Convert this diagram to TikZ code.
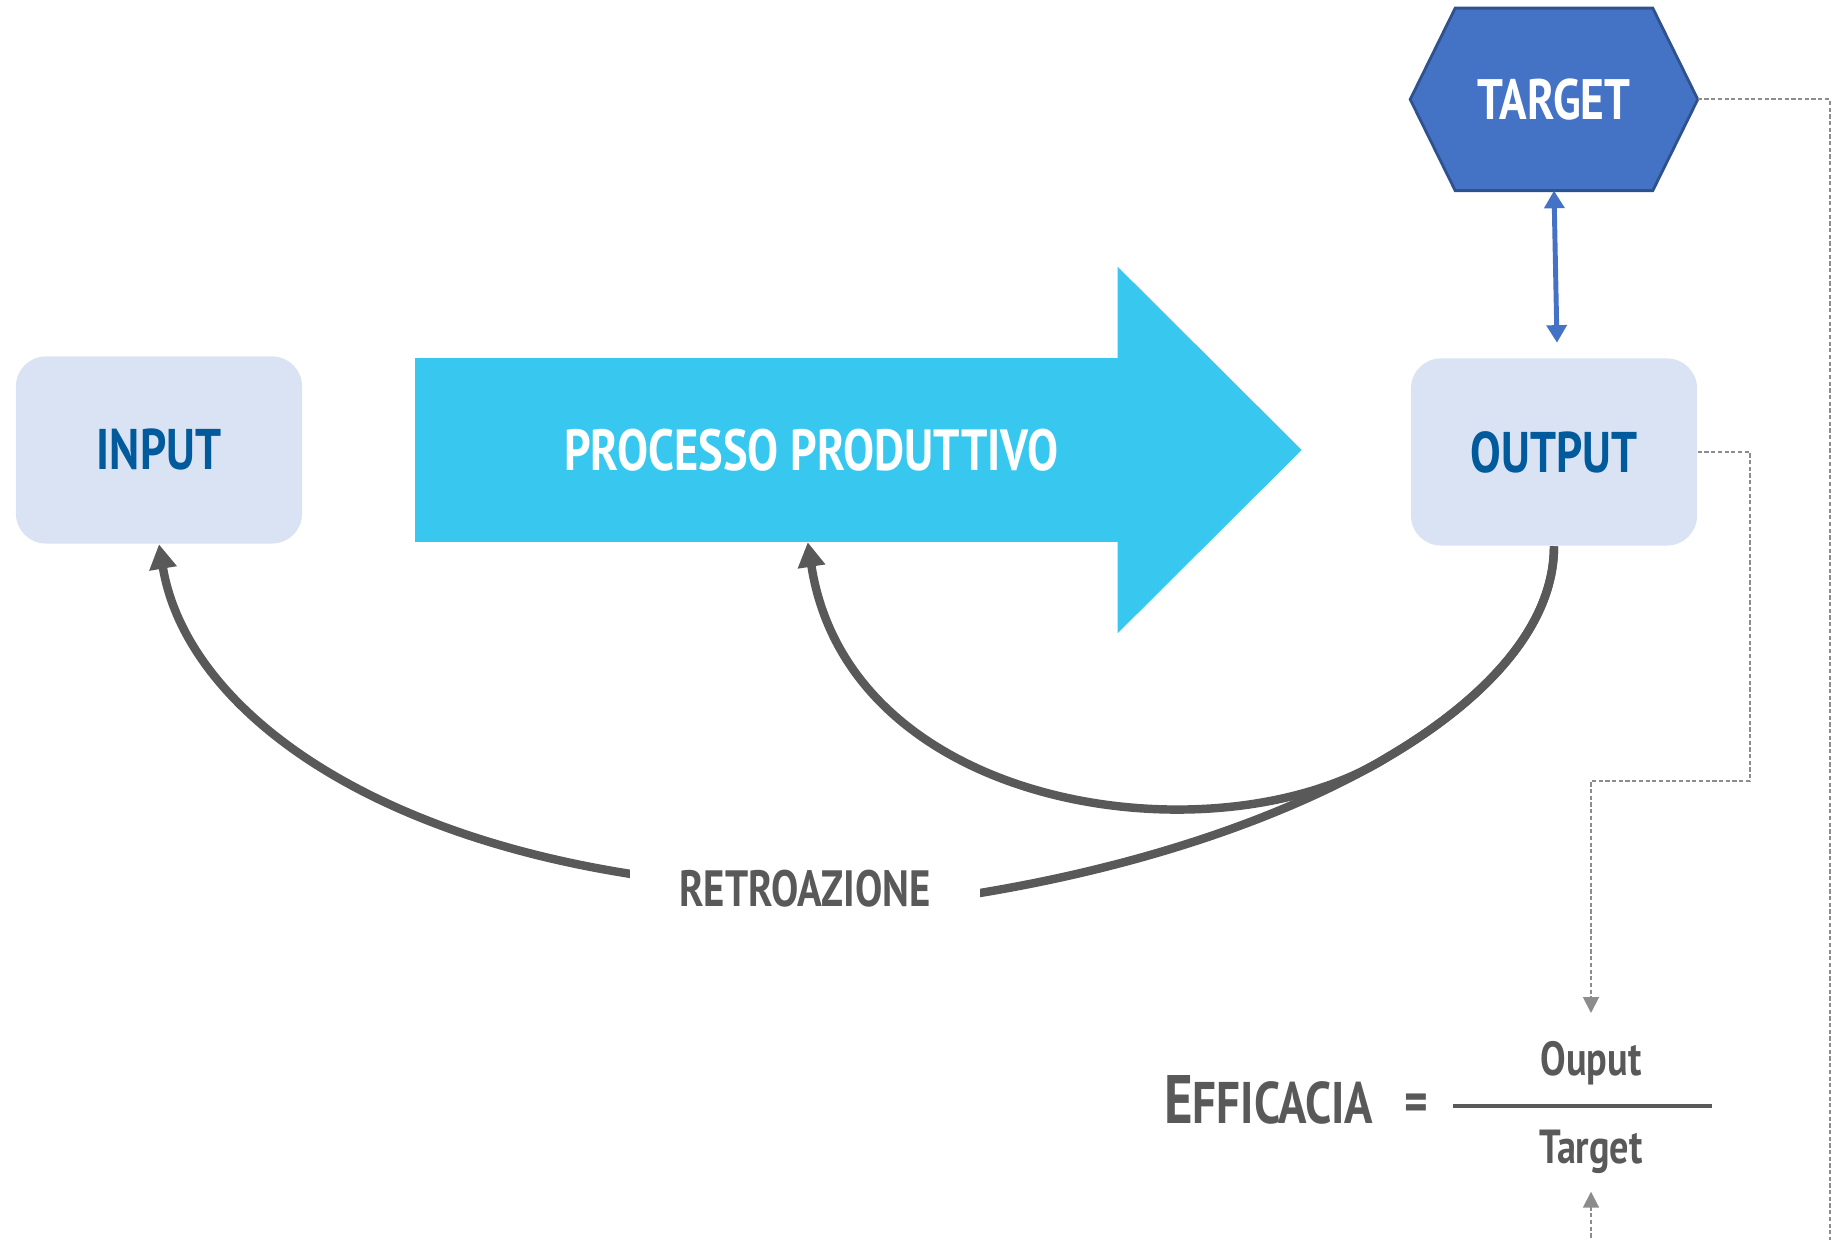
\documentclass[tikz,border=0pt]{standalone}
\usepackage{fontspec}
\setmainfont{PT Sans}[FakeStretch=0.8]
\usetikzlibrary{arrows.meta, positioning, calc, backgrounds}

\definecolor{boxfill}{HTML}{DAE3F3}
\definecolor{boxtext}{HTML}{005A9C}
\definecolor{procblue}{HTML}{38C8EF}
\definecolor{tgtfill}{HTML}{4472C4}
\definecolor{tgtline}{HTML}{2F528F}
\definecolor{loopgrey}{HTML}{595959}
\definecolor{dashgrey}{HTML}{8C8C8C}

\begin{document}
\begin{tikzpicture}[
    x=0.01cm, y=-0.01cm,
    box/.style = {
        rectangle, fill=boxfill, rounded corners=8.5pt,
        minimum width=2.86cm, minimum height=1.87cm,
        text=boxtext, font=\fontsize{16.3}{19}\selectfont\bfseries
    },
    shaft/.style = {
        rectangle, fill=procblue, inner sep=0pt,
        minimum width=7.03cm, minimum height=1.83cm
    },
    proclabel/.style = {text=white, font=\fontsize{16.5}{19}\selectfont\bfseries},
    tgtnode/.style = {
        minimum width=2.86cm, minimum height=1.81cm,
        text=white, font=\fontsize{16.2}{19}\selectfont\bfseries
    },
    tgtshape/.style = {fill=tgtfill, draw=tgtline, line width=0.8pt},
    tgtarr/.style = {{Triangle[length=5pt, width=5.6pt]}-{Triangle[length=5pt, width=5.6pt]},
        line width=1.4pt, draw=tgtfill},
    loop/.style = {-{Triangle[length=7pt, width=7.5pt]}, line width=2.4pt, draw=loopgrey},
    retro/.style = {
        fill=white, minimum width=3.49cm, minimum height=0.7cm,
        text=loopgrey, font=\fontsize{14.5}{17}\selectfont\bfseries
    },
    dasharr/.style = {-{Triangle[length=4.5pt, width=4.5pt]}, line width=0.55pt,
        draw=dashgrey, dash pattern=on 1.2pt off 0.7pt},
    fracterm/.style = {inner sep=0pt, text=loopgrey, font=\fontsize{13.6}{16}\selectfont\bfseries},
    fracbar/.style = {line width=1.3pt, draw=loopgrey}
]
\useasboundingbox (0,0) rectangle (1838,1240);

% ---- Main row ----
\node[box] (input) at (159,450) {INPUT};
\node[shaft, right=1.11cm of input] (proc) {};
\fill[procblue] ($(proc.north east)+(-1,-91)$) -- ($(proc.east)+(183,0)$)
    -- ($(proc.south east)+(-1,91)$) -- cycle;
\node[proclabel] at ($(proc.center)+(45,0)$) {PROCESSO PRODUTTIVO};
\node[box] (output) at (1554,452) {OUTPUT};

% ---- Target ----
\node[tgtnode, above=1.67cm of output] (target) {TARGET};
\begin{scope}[on background layer]
  \filldraw[tgtshape] (target.west) -- ($(target.north west)+(45,0)$)
      -- ($(target.north east)+(-45,0)$) -- (target.east)
      -- ($(target.south east)+(-45,0)$) -- ($(target.south west)+(45,0)$) -- cycle;
\end{scope}
\draw[tgtarr] (target.south) -- ($(output.north)+(3,-15)$);

% ---- Feedback loops ----
\draw[loop] (output.south) .. controls +(0,154) and (1300,840) .. (980,893)
    .. controls (870,911) and (740,891) .. (631,874)
    .. controls (350,830) and (185,700) .. (input.south);
\draw[loop] (output.south) .. controls +(0,77) and (1490.5,696.5) .. (1387,757.4)
    .. controls (1221,862) and (850,815) .. ($(proc.south)+(41.5,0)$);
\node[retro] (retro) at (805,889) {RETROAZIONE};

% ---- Efficacia ----
\node[fracterm, anchor=base east] (effic) at (1374,1124)
    {\fontsize{19.5}{22}\selectfont E\fontsize{16.7}{19}\selectfont FFICACIA};
\node[fracterm, font=\fontsize{16}{19}\selectfont\bfseries] (equal) at (1416,1108) {=};
\node[fracterm, anchor=base] (ouput) at (1591,1076) {Ouput};
\node[fracterm, anchor=base] (targ) at (1591,1164) {Target};
\draw[fracbar] (1453,1106) -- (1712,1106);

% ---- Dashed links ----
\draw[dasharr, shorten >=8pt] (output.east) -- ++(52,0) -- ++(0,329) -| (ouput.north);
\coordinate (below) at ($(targ.south)+(0,100)$);
\draw[dasharr, shorten >=4.8pt] (target.east) -- ++(132,0) |- (below) -- (targ.south);

\end{tikzpicture}
\end{document}
